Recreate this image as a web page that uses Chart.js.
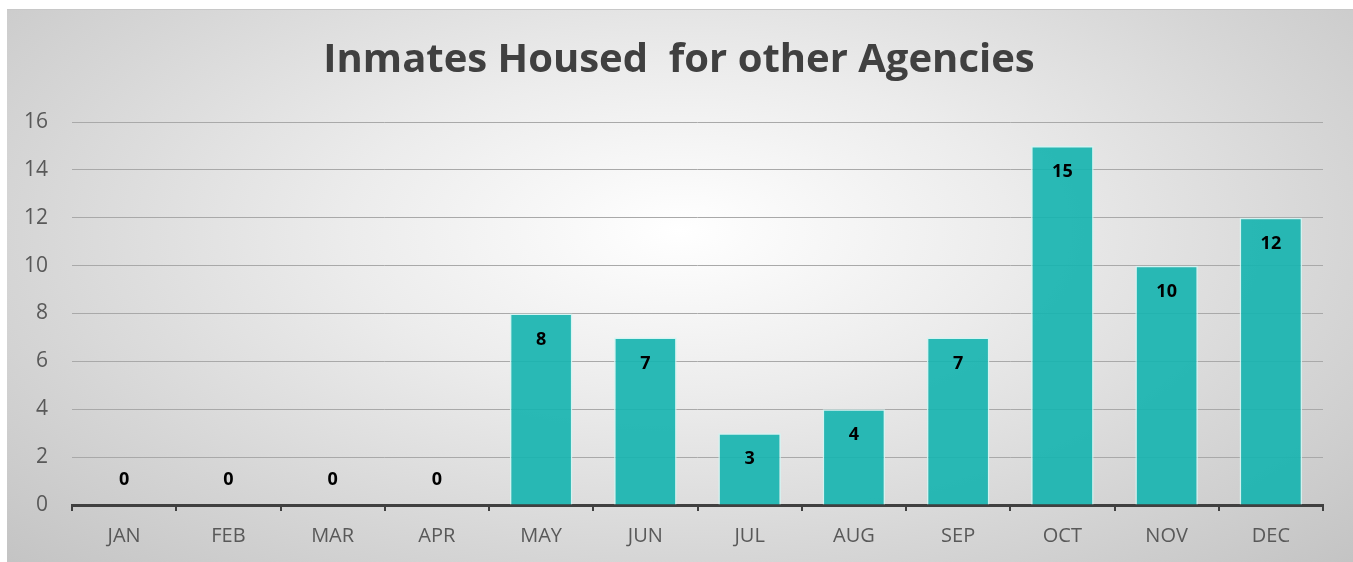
<!DOCTYPE html>
<html lang="en">
<head>
    <meta charset="UTF-8">
    <title>Inmates Housed for other Agencies</title>
    <script src="https://cdn.jsdelivr.net/npm/chart.js"></script>
    <style>
        body { margin: 0; background: #fff; }
        #wrap { position: relative; width: 1353px; height: 562px; }
        #bg {
            position: absolute; left: 7px; top: 9px; width: 1346px; height: 552px;
            background: radial-gradient(ellipse 70% 85% at 50% 40%, #ffffff 0%, #ececec 35%, #d6d6d6 70%, #c4c4c4 100%);
            border-top: 1px solid #c8c8c8;
        }
        canvas { position: absolute; left: 0; top: 0; }
    </style>
</head>
<body>
<div id="wrap">
    <div id="bg"></div>
    <canvas id="chart" width="1353" height="562"></canvas>
</div>
<script>
    const chartTitle = 'Inmates Housed  for other Agencies';
    const months = ['JAN', 'FEB', 'MAR', 'APR', 'MAY', 'JUN', 'JUL', 'AUG', 'SEP', 'OCT', 'NOV', 'DEC'];
    const housed = [0, 0, 0, 0, 8, 7, 3, 4, 7, 15, 10, 12];
    const yTicks = [0, 2, 4, 6, 8, 10, 12, 14, 16];

    // title sits centred on the whole frame, not on the plot
    const frameTitle = {
        id: 'frameTitle',
        afterDraw(chart) {
            const ctx = chart.ctx;
            ctx.save();
            ctx.font = 'bold 40px "Open Sans"';
            ctx.fillStyle = '#404040';
            ctx.textAlign = 'center';
            ctx.textBaseline = 'middle';
            ctx.fillText(chartTitle, 679, 61);
            ctx.restore();
        }
    };

    // value labels: inside the top of the bar, above the axis for zeros
    const barLabels = {
        id: 'barLabels',
        afterDatasetsDraw(chart) {
            const ctx = chart.ctx;
            const meta = chart.getDatasetMeta(0);
            ctx.save();
            ctx.font = 'bold 18px "Open Sans"';
            ctx.fillStyle = '#000';
            ctx.textAlign = 'center';
            ctx.textBaseline = 'middle';
            meta.data.forEach((bar, i) => {
                const v = housed[i];
                const y = v === 0 ? bar.y - 25 : bar.y + 26;
                ctx.fillText(String(v), bar.x, y);
            });
            ctx.restore();
        }
    };

    new Chart(document.getElementById('chart'), {
        type: 'bar',
        data: {
            labels: months,
            datasets: [{
                data: housed,
                backgroundColor: 'rgba(24, 180, 176, 0.92)',
                borderColor: 'rgba(210, 245, 243, 0.9)',
                borderWidth: 1.5,
                barPercentage: 0.6,
                categoryPercentage: 1.0
            }]
        },
        options: {
            responsive: false,
            animation: false,
            layout: { padding: { left: 0, right: 30, top: 122, bottom: 0 } },
            plugins: {
                legend: { display: false },
                tooltip: { enabled: false },
                title: { display: false }
            },
            scales: {
                x: {
                    grid: {
                        offset: true,
                        drawOnChartArea: false,
                        drawTicks: true,
                        tickLength: 6,
                        color: '#404040',
                        lineWidth: 2
                    },
                    border: { display: true, color: '#404040', width: 3 },
                    ticks: {
                        color: '#595959',
                        font: { family: '"Open Sans"', size: 20 },
                        padding: 13
                    },
                    afterFit(scale) { scale.height = 57; }
                },
                y: {
                    min: 0,
                    max: 16,
                    afterBuildTicks(scale) { scale.ticks = yTicks.map(v => ({ value: v })); },
                    grid: { color: '#a9a9a9', lineWidth: 1, drawTicks: false },
                    border: { display: false },
                    ticks: {
                        color: '#595959',
                        font: { family: '"Open Sans"', size: 21 },
                        padding: 24
                    },
                    afterFit(scale) { scale.width = 72; }
                }
            }
        },
        plugins: [barLabels, frameTitle]
    });
</script>
</body>
</html>
